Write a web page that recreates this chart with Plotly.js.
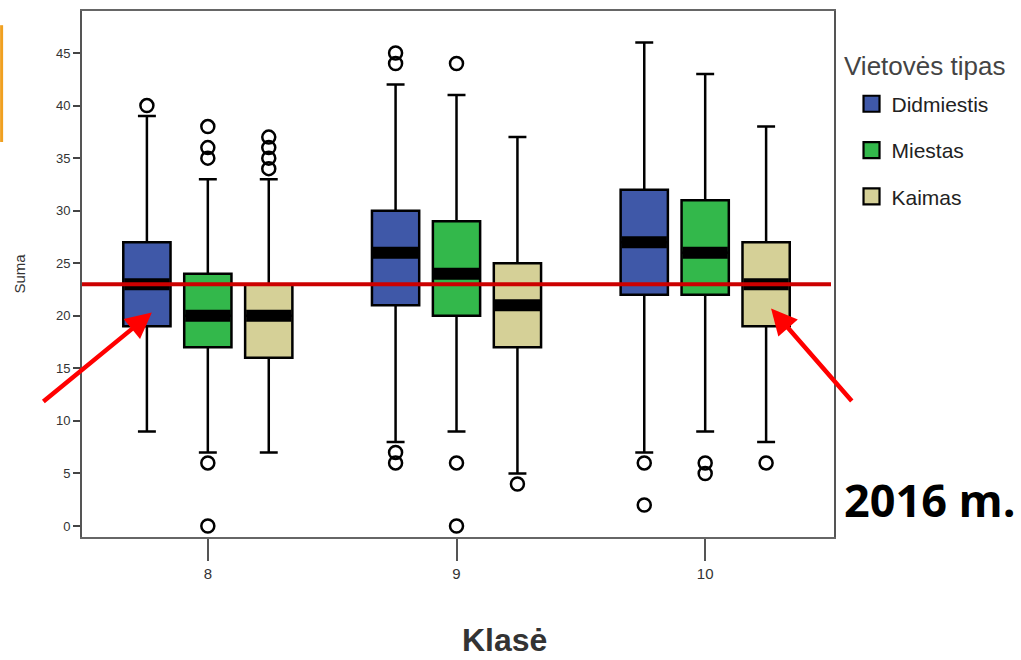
<!DOCTYPE html>
<html>
<head>
<meta charset="utf-8">
<script src="https://cdn.plot.ly/plotly-3.0.1.min.js"></script>
<style>html,body{margin:0;padding:0;background:#fff;}#chart{width:1021px;height:660px;}</style>
</head>
<body>
<div id="chart"></div>
<script>
// ---- data ----
const categories = [8, 9, 10];
const seriesNames = ['Didmiestis', 'Miestas', 'Kaimas'];

const didmiestisLower  = [9, 8, 7];
const didmiestisQ1     = [19, 21, 22];
const didmiestisMedian = [23, 26, 27];
const didmiestisQ3     = [27, 30, 32];
const didmiestisUpper  = [39, 42, 46];
const didmiestisOutliers = [[40], [45, 44, 7, 6], [6, 2]];

const miestasLower  = [7, 9, 9];
const miestasQ1     = [17, 20, 22];
const miestasMedian = [20, 24, 26];
const miestasQ3     = [24, 29, 31];
const miestasUpper  = [33, 41, 43];
const miestasOutliers = [[38, 36, 35, 6, 0], [44, 6, 0], [6, 5]];

const kaimasLower  = [7, 5, 8];
const kaimasQ1     = [16, 17, 19];
const kaimasMedian = [20, 21, 23];
const kaimasQ3     = [23, 25, 27];
const kaimasUpper  = [33, 37, 38];
const kaimasOutliers = [[37, 36, 35, 34], [4], [6]];

const referenceValue = 23;
const yearLabel = '2016 m.';
const legendTitle = 'Vietovės tipas';
const xTitle = 'Klasė';
const yTitle = 'Suma';

// ---- styling ----
const colors = ['#3f58a8', '#33b84b', '#d5d097'];
const groupOffset = 0.245;
const boxWidth = 0.19;

const series = [
  {lower: didmiestisLower, q1: didmiestisQ1, med: didmiestisMedian, q3: didmiestisQ3, upper: didmiestisUpper, out: didmiestisOutliers},
  {lower: miestasLower, q1: miestasQ1, med: miestasMedian, q3: miestasQ3, upper: miestasUpper, out: miestasOutliers},
  {lower: kaimasLower, q1: kaimasQ1, med: kaimasMedian, q3: kaimasQ3, upper: kaimasUpper, out: kaimasOutliers}
];

const traces = [];
const medianTraces = [];
const outlierTraces = [];
const legendTraces = [];

series.forEach((s, i) => {
  const pos = categories.map(c => c + (i - 1) * groupOffset);
  traces.push({
    type: 'box',
    orientation: 'v',
    name: seriesNames[i],
    x: pos,
    q1: s.q1, median: s.med, q3: s.q3,
    lowerfence: s.lower, upperfence: s.upper,
    width: boxWidth,
    whiskerwidth: 0.38,
    boxpoints: false,
    fillcolor: colors[i],
    line: {color: '#000', width: 2.5},
    showlegend: false,
    hoverinfo: 'skip'
  });
  const mx = [], my = [];
  pos.forEach((p, k) => {
    mx.push(p - boxWidth / 2 + 0.004, p + boxWidth / 2 - 0.004, null);
    my.push(s.med[k], s.med[k], null);
  });
  medianTraces.push({
    type: 'scatter', mode: 'lines', x: mx, y: my,
    line: {color: '#000', width: 12}, showlegend: false, hoverinfo: 'skip'
  });
  const ox = [], oy = [];
  pos.forEach((p, k) => { s.out[k].forEach(v => { ox.push(p); oy.push(v); }); });
  outlierTraces.push({
    type: 'scatter', mode: 'markers', x: ox, y: oy,
    marker: {symbol: 'circle-open', size: 13, color: '#000', line: {width: 2.5, color: '#000'}},
    showlegend: false, hoverinfo: 'skip'
  });
  legendTraces.push({
    type: 'scatter', mode: 'markers', x: [null], y: [null],
    name: seriesNames[i], legendgroup: seriesNames[i],
    marker: {symbol: 'square', size: 17, color: colors[i], line: {width: 2.2, color: '#000'}}
  });
});

const narrow = '"Liberation Sans Narrow", "Arial Narrow", "Liberation Sans", Arial, sans-serif';

const layout = {
  width: 1021, height: 660,
  margin: {l: 82, r: 187, t: 11, b: 123},
  paper_bgcolor: '#fff', plot_bgcolor: '#fff',
  showlegend: true,
  font: {family: narrow, color: '#333'},
  xaxis: {
    range: [7.494, 10.518],
    tickvals: categories, ticktext: categories.map(String),
    ticks: 'outside', ticklen: 22, tickwidth: 2, tickcolor: '#555',
    tickfont: {size: 15, color: '#333', family: narrow},
    showline: true, linecolor: '#666', linewidth: 2, mirror: true,
    showgrid: false, zeroline: false
  },
  yaxis: {
    range: [-1.05, 49],
    tickvals: [0, 5, 10, 15, 20, 25, 30, 35, 40, 45],
    ticks: 'outside', ticklen: 7, tickwidth: 2, tickcolor: '#444',
    tickfont: {size: 13, color: '#333', family: narrow},
    showline: true, linecolor: '#555', linewidth: 2, mirror: true,
    showgrid: false, zeroline: false,
    title: {text: yTitle, font: {size: 15, color: '#333', family: narrow}, standoff: 27}
  },
  legend: {
    x: 1.0233, xanchor: 'left', y: 0.862, yanchor: 'top',
    font: {size: 21, color: '#222', family: narrow},
    tracegroupgap: 16,
    traceorder: 'grouped',
    bgcolor: 'rgba(0,0,0,0)'
  },
  shapes: [
    {type: 'line', xref: 'paper', x0: 0, x1: 0.996, yref: 'y', y0: referenceValue, y1: referenceValue,
     line: {color: '#cc0000', width: 4}, layer: 'above'},
    {type: 'rect', xref: 'paper', yref: 'paper', x0: -0.1089, x1: -0.1049, y0: 0.751, y1: 0.973,
     fillcolor: '#f0a020', line: {width: 0}}
  ],
  annotations: [
    {x: categories[0] - groupOffset + 0.02, y: 20.3, xref: 'x', yref: 'y', text: '', showarrow: true,
     ax: -110, ay: 90, arrowcolor: '#ff0000', arrowwidth: 4.5, arrowhead: 2, arrowsize: 1.15},
    {x: categories[2] + groupOffset + 0.02, y: 20.7, xref: 'x', yref: 'y', text: '', showarrow: true,
     ax: 82, ay: 94, arrowcolor: '#ff0000', arrowwidth: 4.5, arrowhead: 2, arrowsize: 1.15},
    {x: 1.127, y: 0.071, xref: 'paper', yref: 'paper', xanchor: 'center', yanchor: 'middle',
     text: yearLabel, showarrow: false,
     font: {size: 45, color: '#000', family: '"Open Sans", sans-serif', weight: 'bold'}},
    {x: 1.0106, y: 0.895, xref: 'paper', yref: 'paper', xanchor: 'left', yanchor: 'middle',
     text: legendTitle, showarrow: false,
     font: {size: 26, color: '#444', family: narrow}},
    {x: 0.5618, y: -0.196, xref: 'paper', yref: 'paper', xanchor: 'center', yanchor: 'middle',
     text: xTitle, showarrow: false,
     font: {size: 32, color: '#333', family: narrow, weight: 'bold'}}
  ]
};

Plotly.newPlot('chart', traces.concat(medianTraces, outlierTraces, legendTraces), layout, {displayModeBar: false, staticPlot: true});
</script>
</body>
</html>
